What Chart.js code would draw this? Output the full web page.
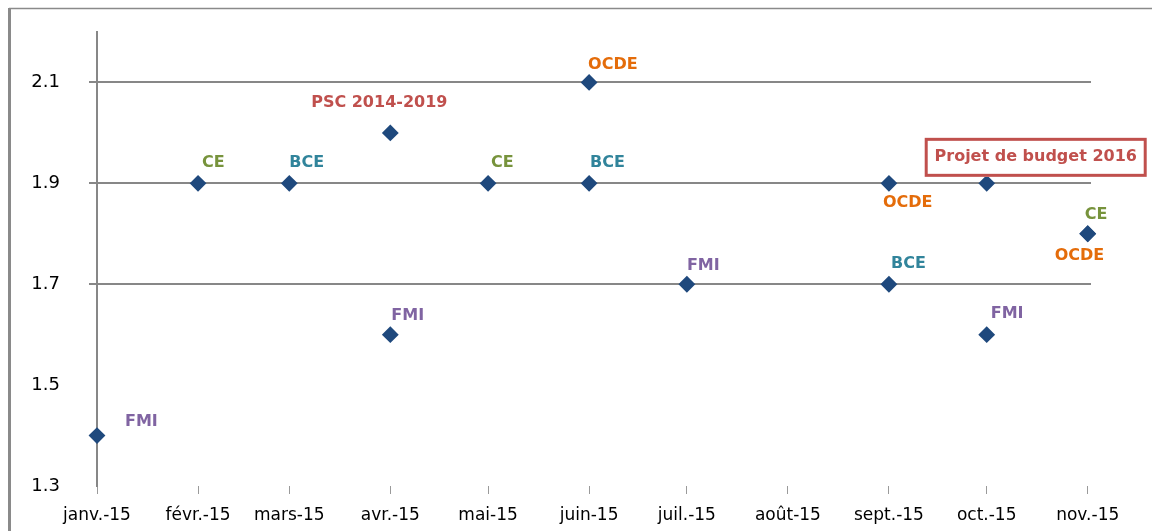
<!DOCTYPE html>
<html><head><meta charset="utf-8">
<script src="https://cdn.jsdelivr.net/npm/chart.js@4"></script>
<style>html,body{margin:0;padding:0;background:#fff;} canvas{display:block;}</style>
</head><body>
<canvas id="c" width="1152" height="531" style="width:1152px;height:531px"></canvas>
<script>
// ---- data ----
const pointDates = ['2015-01-01','2015-02-01','2015-03-01','2015-04-01','2015-04-01','2015-05-01','2015-06-01','2015-06-01','2015-07-01','2015-09-01','2015-09-01','2015-10-01','2015-10-01','2015-11-01','2015-11-01'];
const pointValues = [1.4, 1.9, 1.9, 2.0, 1.6, 1.9, 2.1, 1.9, 1.7, 1.9, 1.7, 1.9, 1.6, 1.8, 1.8];
const pointSources = ['FMI','CE','BCE','PSC 2014-2019','FMI','CE','OCDE','BCE','FMI','OCDE','BCE','Projet de budget 2016','FMI','CE','OCDE'];
const tickDates = ['2015-01-01','2015-02-01','2015-03-01','2015-04-01','2015-05-01','2015-06-01','2015-07-01','2015-08-01','2015-09-01','2015-10-01','2015-11-01'];
const tickLabels = ['janv.-15','févr.-15','mars-15','avr.-15','mai-15','juin-15','juil.-15','août-15','sept.-15','oct.-15','nov.-15'];
const yTicks = [1.3, 1.5, 1.7, 1.9, 2.1];
const yGridValues = [1.7, 1.9, 2.1];
const axisStart = '2015-01-01';
const axisEnd = '2015-11-02';
const yMin = 1.3, yMax = 2.2;

// ---- styles ----
const sourceColors = {
  'FMI': '#8064A2', 'CE': '#77933C', 'BCE': '#31849B', 'OCDE': '#E46C0A',
  'PSC 2014-2019': '#C0504D', 'Projet de budget 2016': '#C0504D'
};
const boxedSources = ['Projet de budget 2016'];
const labelPlacements = [
  {dx:28, dy:-14, align:'left'},
  {dx:4, dy:-20, align:'left'},
  {dx:0, dy:-20, align:'left'},
  {dx:-11, dy:-30, align:'center'},
  {dx:1, dy:-19, align:'left'},
  {dx:3, dy:-20, align:'left'},
  {dx:-1, dy:-18, align:'left'},
  {dx:1, dy:-20, align:'left'},
  {dx:0, dy:-18, align:'left'},
  {dx:-6, dy:20, align:'left'},
  {dx:2, dy:-20, align:'left'},
  {dx:49, dy:-26, align:'center', boxW:222, boxH:39},
  {dx:4, dy:-21, align:'left'},
  {dx:-3, dy:-19, align:'left'},
  {dx:-33, dy:22, align:'left'}
];

const DAY = 86400000;
const dayOf = d => (Date.parse(d + 'T00:00:00Z') - Date.parse(axisStart + 'T00:00:00Z')) / DAY;

const points = pointDates.map((d, i) => ({x: dayOf(d), y: pointValues[i]}));
const xTickValues = tickDates.map(dayOf);

const framePlugin = {
  id: 'frame',
  beforeDraw(chart) {
    const ctx = chart.ctx;
    ctx.save();
    ctx.fillStyle = '#fff';
    ctx.fillRect(0, 0, chart.width, chart.height);
    ctx.strokeStyle = '#8a8a8a';
    ctx.lineWidth = 1.5;
    ctx.beginPath();
    ctx.moveTo(9, 8.5); ctx.lineTo(chart.width, 8.5);
    ctx.stroke();
    ctx.lineWidth = 3;
    ctx.beginPath();
    ctx.moveTo(9.5, 8); ctx.lineTo(9.5, chart.height);
    ctx.stroke();
    ctx.restore();
  }
};

const labelPlugin = {
  id: 'pointLabels',
  afterDatasetsDraw(chart) {
    const ctx = chart.ctx;
    const meta = chart.getDatasetMeta(0);
    ctx.save();
    ctx.font = 'bold 16px "DejaVu Sans"';
    ctx.textBaseline = 'middle';
    meta.data.forEach((el, i) => {
      const p = labelPlacements[i];
      const txt = pointSources[i];
      const x = el.x + p.dx, y = el.y + p.dy;
      if (boxedSources.includes(txt)) {
        ctx.fillStyle = '#fff';
        ctx.fillRect(x - p.boxW / 2, y - p.boxH / 2, p.boxW, p.boxH);
        ctx.strokeStyle = '#C0504D';
        ctx.lineWidth = 3;
        ctx.strokeRect(x - p.boxW / 2 + 1.5, y - p.boxH / 2 + 1.5, p.boxW - 3, p.boxH - 3);
      }
      ctx.fillStyle = sourceColors[txt];
      ctx.textAlign = p.align;
      ctx.fillText(txt, x, y);
    });
    ctx.restore();
  }
};

new Chart(document.getElementById('c'), {
  type: 'scatter',
  data: {
    datasets: [{
      data: points,
      pointStyle: 'rectRot',
      pointRadius: 7,
      pointHoverRadius: 7,
      pointBackgroundColor: '#1F497D',
      pointBorderColor: '#1F497D',
      pointBorderWidth: 2,
      showLine: false,
      clip: false
    }]
  },
  options: {
    responsive: false,
    animation: false,
    devicePixelRatio: 1,
    layout: {padding: {top: 32, right: 61, left: 0, bottom: 0}},
    plugins: {legend: {display: false}, tooltip: {enabled: false}},
    scales: {
      x: {
        type: 'linear',
        min: 0,
        max: dayOf(axisEnd),
        afterBuildTicks: s => { s.ticks = xTickValues.map(v => ({value: v})); },
        afterFit: s => { s.height = 45; s.paddingLeft = 0; s.paddingRight = 0; },
        border: {display: false},
        grid: {display: true, drawOnChartArea: false, drawTicks: true, tickLength: 8, color: '#9a9a9a', lineWidth: 1},
        ticks: {
          autoSkip: false, maxRotation: 0, minRotation: 0, padding: 11,
          color: '#000', font: {family: '"DejaVu Sans"', size: 17},
          callback: (v, i) => tickLabels[i]
        }
      },
      y: {
        min: yMin,
        max: yMax,
        afterBuildTicks: s => { s.ticks = yTicks.map(v => ({value: v})); },
        afterFit: s => { s.width = 97; s.paddingTop = 0; s.paddingBottom = 0; },
        border: {display: true, color: '#878787', width: 2},
        grid: {
          drawTicks: true, tickLength: 8, lineWidth: 2,
          color: c => (c.tick && yGridValues.some(g => Math.abs(g - c.tick.value) < 1e-9)) ? '#878787' : 'rgba(0,0,0,0)'
        },
        ticks: {
          padding: 29, color: '#000', font: {family: '"DejaVu Sans"', size: 18},
          callback: v => v.toFixed(1)
        }
      }
    }
  },
  plugins: [framePlugin, labelPlugin]
});
</script>
</body></html>
